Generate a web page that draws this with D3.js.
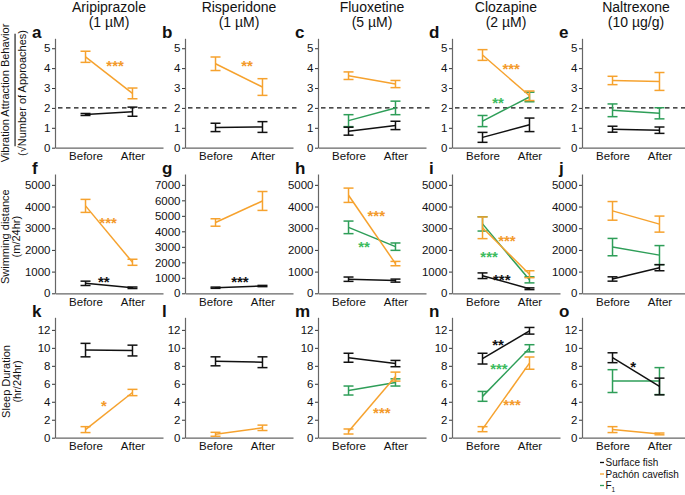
<!DOCTYPE html>
<html><head><meta charset="utf-8">
<script src="https://cdn.jsdelivr.net/npm/d3@7"></script>
<style>
body{margin:0;background:#fff}
text{font-family:"Liberation Sans",Arial,Helvetica,sans-serif;fill:#111}
</style>
</head><body>
<svg id="chart" width="685" height="495"></svg>
<script>
// ---------- DATA ----------
const drugs = ["Aripiprazole", "Risperidone", "Fluoxetine", "Clozapine", "Naltrexone"];
const doses = ["(1 µM)", "(1 µM)", "(5 µM)", "(2 µM)", "(10 µg/g)"];
const timepoints = ["Before", "After"];
const panelLetters = [["a","b","c","d","e"],["f","g","h","i","j"],["k","l","m","n","o"]];
const groupNames = ["Surface fish", "Pachón cavefish", "F1"];

// Row 1: vibration attraction behavior (sqrt number of approaches)
const vibTicks = [0,1,2,3,4,5];
const vibMax = [5.5,5.5,5.5,5.5,5.5];
const vibSurfaceMean = [[1.67,1.81],[1.02,1.04],[0.83,1.12],[0.52,1.15],[0.93,0.88]];
const vibSurfaceErr  = [[0.05,0.23],[0.21,0.27],[0.20,0.21],[0.25,0.34],[0.15,0.16]];
const vibPachonMean  = [[4.57,2.73],[4.22,3.05],[3.62,3.20],[4.66,2.61],[3.38,3.33]];
const vibPachonErr   = [[0.28,0.27],[0.34,0.42],[0.19,0.18],[0.27,0.24],[0.21,0.45]];
const vibF1Mean      = [null,null,[1.36,2.00],[1.34,2.55],[1.88,1.73]];
const vibF1Err       = [null,null,[0.30,0.34],[0.28,0.24],[0.32,0.28]];
const vibThreshold = 2;

// Row 2: swimming distance (m/24hr)
const swimTicks = [[0,1000,2000,3000,4000,5000],[0,1000,2000,3000,4000,5000,6000,7000],[0,1000,2000,3000,4000,5000],[0,1000,2000,3000,4000,5000],[0,1000,2000,3000,4000,5000]];
const swimMax = [5500,7700,5500,5500,5500];
const swimSurfaceMean = [[460,255],[360,470],[650,585],[810,210],[660,1180]];
const swimSurfaceErr  = [[100,35],[40,40],[100,70],[130,40],[100,140]];
const swimPachonMean  = [[4030,1430],[4570,5960],[4520,1370],[3020,880],[3800,3190]];
const swimPachonErr   = [[300,140],[240,610],[330,100],[500,160],[430,370]];
const swimF1Mean      = [null,null,[3040,2150],[3200,620],[2130,1760]];
const swimF1Err       = [null,null,[290,170],[330,140],[400,440]];

// Row 3: sleep duration (hr/24hr)
const sleepTicks = [0,2,4,6,8,10,12];
const sleepMax = [13.4,13.4,13.4,13.4,13.4];
const sleepSurfaceMean = [[9.75,9.70],[8.50,8.40],[8.90,8.25],[8.80,11.90],[8.90,5.70]];
const sleepSurfaceErr  = [[0.75,0.60],[0.50,0.60],[0.50,0.35],[0.60,0.37],[0.55,0.93]];
const sleepPachonMean  = [[0.90,5.03],[0.38,1.10],[0.69,6.80],[0.95,8.30],[0.90,0.42]];
const sleepPachonErr   = [[0.33,0.35],[0.22,0.30],[0.28,0.50],[0.28,0.68],[0.33,0.10]];
const sleepF1Mean      = [null,null,[5.25,6.15],[4.60,9.95],[6.30,6.30]];
const sleepF1Err       = [null,null,[0.50,0.40],[0.55,0.40],[1.27,1.50]];

// significance labels: [row, col, group index, label, fraction Before->After, value]
const sigMarks = [
  [0,0,1,"***",0.63,4.29],
  [0,1,1,"**",0.67,4.31],
  [0,3,1,"***",0.61,4.16],
  [0,3,2,"**",0.33,2.45],
  [1,0,1,"***",0.48,3406],
  [1,0,0,"**",0.39,711],
  [1,1,0,"***",0.52,995],
  [1,2,1,"***",0.59,3731],
  [1,2,2,"**",0.33,2337],
  [1,3,1,"***",0.52,2616],
  [1,3,2,"***",0.14,1873],
  [1,3,0,"***",0.41,804],
  [2,0,1,"*",0.39,3.98],
  [2,2,1,"***",0.71,3.2],
  [2,3,0,"**",0.33,10.77],
  [2,3,2,"***",0.35,8.1],
  [2,3,1,"***",0.63,4.09],
  [2,4,0,"*",0.44,8.32]
];

// ---------- STYLE / LAYOUT ----------
const colors = ["#111111", "#F6A22E", "#2E9E58"];
const starColors = ["#111111", "#F39A2B", "#3DBB5E"];
const axisX = [55, 185, 318, 452, 582];
const plotW = 108;
const rowsY = [{top:38.3,bottom:147.7},{top:174,bottom:293.3},{top:317.3,bottom:437.7}];

const rowData = [
  {max:vibMax, ticks:c=>vibTicks, means:[vibSurfaceMean,vibPachonMean,vibF1Mean], errs:[vibSurfaceErr,vibPachonErr,vibF1Err]},
  {max:swimMax, ticks:c=>swimTicks[c], means:[swimSurfaceMean,swimPachonMean,swimF1Mean], errs:[swimSurfaceErr,swimPachonErr,swimF1Err]},
  {max:sleepMax, ticks:c=>sleepTicks, means:[sleepSurfaceMean,sleepPachonMean,sleepF1Mean], errs:[sleepSurfaceErr,sleepPachonErr,sleepF1Err]}
];

const yLabels = [
  {lines:["Vibration Attraction Behavior", null], bx:[9,25.5]},
  {lines:["Swimming distance","(m/24hr)"], bx:[9,20]},
  {lines:["Sleep Duration","(hr/24hr)"], bx:[9.5,20.5]}
];

const svg = d3.select("#chart");
const scales = {};

// titles
drugs.forEach((d,c)=>{
  const cx = axisX[c] + plotW/2;
  svg.append("text").attr("x",cx).attr("y",11.5).attr("text-anchor","middle").style("font-size","14px").text(d);
  svg.append("text").attr("x",cx).attr("y",27).attr("text-anchor","middle").style("font-size","14px").text(doses[c]);
});

rowData.forEach((rd,r)=>{
  const ry = rowsY[r];
  // y label
  const cy = (ry.top+ry.bottom)/2 + (r===2?4:(r===1?3:0));
  yLabels[r].lines.forEach((ln,i)=>{
    const t = svg.append("text")
      .attr("transform",`translate(${yLabels[r].bx[i]},${cy}) rotate(-90)`)
      .attr("text-anchor","middle").style("font-size","11px");
    if (ln === null) {
      t.append("tspan").text("(√");
      t.append("tspan").attr("text-decoration","overline").style("text-decoration","overline").text("Number of Approaches");
      t.append("tspan").text(")");
    } else t.text(ln);
  });

  drugs.forEach((d,c)=>{
    const ax = axisX[c];
    const x = d3.scalePoint().domain(timepoints).range([ax, ax+plotW]).padding(0.65);
    const y = d3.scaleLinear().domain([0, rd.max[c]]).range([ry.bottom, ry.top]);
    scales[r+"_"+c] = {x,y};
    const g = svg.append("g");

    // panel letter
    svg.append("text").attr("x",ax-23).attr("y",ry.top-0.5)
      .style("font-size","17px").style("font-weight","bold").text(panelLetters[r][c]);

    // y axis
    const ya = g.append("g").attr("transform",`translate(${ax},0)`)
      .call(d3.axisLeft(y).tickValues(rd.ticks(c)).tickSize(3).tickSizeOuter(0).tickPadding(1.5).tickFormat(d3.format("d")));
    ya.select(".domain").attr("stroke","#666").attr("stroke-width",1.2);
    ya.selectAll(".tick line").attr("stroke","#333");
    ya.selectAll(".tick text").style("font-size","11.5px").attr("fill","#111").style("font-family","'Liberation Sans',Arial,sans-serif");

    // x axis
    const xa = g.append("g").attr("transform",`translate(0,${ry.bottom})`)
      .call(d3.axisBottom(x).tickSize(0).tickSizeOuter(0).tickPadding(4.3));
    xa.select(".domain").attr("stroke","#666").attr("stroke-width",1.2);
    xa.selectAll(".tick text").style("font-size","11.5px").attr("fill","#111").style("font-family","'Liberation Sans',Arial,sans-serif");

    // threshold dashed line
    if (r === 0) {
      g.append("line").attr("x1",ax+3).attr("x2",ax+plotW+5)
        .attr("y1",y(vibThreshold)).attr("y2",y(vibThreshold))
        .attr("stroke","#111").attr("stroke-width",1.4).attr("stroke-dasharray","4.5,3.5");
    }

    // series: F1, Pachon, Surface order
    [2,1,0].forEach(gi=>{
      const m = rd.means[gi][c];
      const e = rd.errs[gi][c];
      if (!m) return;
      const pts = timepoints.map((t,i)=>({t, m:m[i], e:e[i]}));
      const col = colors[gi];
      g.append("path").datum(pts)
        .attr("d", d3.line().x(p=>x(p.t)).y(p=>y(p.m)))
        .attr("fill","none").attr("stroke",col).attr("stroke-width",1.5);
      pts.forEach(p=>{
        const cxp = x(p.t);
        g.append("line").attr("x1",cxp).attr("x2",cxp).attr("y1",y(p.m-p.e)).attr("y2",y(p.m+p.e))
          .attr("stroke",col).attr("stroke-width",1.5);
        [p.m-p.e, p.m+p.e].forEach(v=>{
          g.append("line").attr("x1",cxp-5).attr("x2",cxp+5).attr("y1",y(v)).attr("y2",y(v))
            .attr("stroke",col).attr("stroke-width",1.5);
        });
      });
    });
  });
});

// significance marks
sigMarks.forEach(([r,c,gi,lab,f,v])=>{
  const {x,y} = scales[r+"_"+c];
  const px = x("Before") + f*(x("After")-x("Before"));
  svg.append("text").attr("x",px).attr("y",y(v)+9)
    .attr("text-anchor","middle").style("font-size","15px").style("font-weight","bold")
    .style("fill",starColors[gi]).text(lab);
});

// legend
const lg = svg.append("g");
groupNames.forEach((n,i)=>{
  const cy = 462.5 + i*11.5;
  lg.append("line").attr("x1",600).attr("x2",604).attr("y1",cy).attr("y2",cy)
    .attr("stroke",colors[i]).attr("stroke-width",1.3);
  const t = lg.append("text").attr("x",605.5).attr("y",cy+3.6).style("font-size","10px");
  if (n === "F1") {
    t.append("tspan").text("F");
    t.append("tspan").attr("dy",2.5).style("font-size","6.5px").text("1");
  } else t.text(n);
});
</script>
</body></html>
